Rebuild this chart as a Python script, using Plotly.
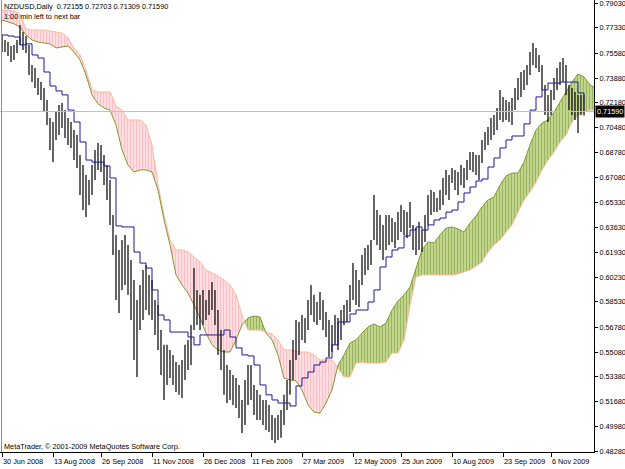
import plotly.graph_objects as go
import numpy as np

# ---------------- data ----------------
symbol_header = "NZDUSD,Daily  0.72155 0.72703 0.71309 0.71590"
timer_text = "1:00 min left to next bar"
copyright_text = "MetaTrader, \u00a9 2001-2009 MetaQuotes Software Corp."
last_close = 0.71590

# daily bars (sampled), high / low
highs = [.7684,.7650,.7636,.7609,.7616,.7650,.7753,.7704,.7677,.7616,
         .7478,.7457,.7389,.7361,.7320,.7238,.7115,.7087,.7155,.7204,
         .7217,.7169,.7115,.7087,.7032,.6998,.6861,.6792,.6724,.6689,
         .6792,.6895,.6943,.6930,.6861,.6792,.6689,.6449,.6312,.6209,
         .6278,.6312,.6244,.6140,.6003,.5866,.5969,.6072,.6106,.6038,
         .6003,.5866,.5832,.5660,.5558,.5558,.5523,.5489,.5440,.5420,
         .5454,.5558,.5592,.5695,.6086,.5935,.5901,.5935,.5866,.5935,
         .5989,.5935,.5797,.5660,.5523,.5420,.5386,.5352,.5331,.5283,
         .5180,.5317,.5420,.5420,.5283,.5249,.5215,.5180,.5180,.5146,
         .5077,.5057,.5077,.5111,.5215,.5317,.5454,.5592,.5729,.5715,
         .5763,.5742,.5866,.5969,.5901,.5852,.5921,.5866,.5783,.5729,
         .5695,.5763,.5742,.5797,.5832,.5866,.5969,.6119,.6072,.6003,
         .6175,.6223,.6244,.6278,.6587,.6483,.6449,.6381,.6449,.6449,
         .6428,.6401,.6469,.6518,.6483,.6469,.6538,.6381,.6360,.6401,
         .6346,.6449,.6587,.6621,.6607,.6566,.6621,.6703,.6758,.6724,
         .6772,.6758,.6744,.6792,.6772,.6826,.6881,.6881,.6861,.6861,
         .6964,.7018,.7053,.7115,.7135,.7183,.7307,.7259,.7238,.7224,
         .7252,.7320,.7389,.7430,.7444,.7478,.7567,.7629,.7595,.7547,
         .7478,.7341,.7273,.7307,.7389,.7457,.7498,.7526,.7478,.7341,
         .7320,.7293,.7273,.7273,.72703]
lows = [.7567,.7567,.7540,.7498,.7512,.7560,.7616,.7581,.7560,.7410,
        .7361,.7320,.7273,.7238,.7155,.7067,.6895,.6812,.6964,.6998,
        .7046,.6978,.6930,.6909,.6826,.6772,.6587,.6483,.6435,.6518,
        .6587,.6689,.6758,.6744,.6655,.6552,.6381,.6175,.5866,.5776,
        .5935,.5969,.5901,.5729,.5454,.5338,.5660,.5729,.5797,.5763,
        .5729,.5626,.5523,.5352,.5180,.5283,.5331,.5283,.5235,.5215,
        .5194,.5317,.5386,.5420,.5660,.5695,.5660,.5695,.5729,.5763,
        .5797,.5695,.5489,.5386,.5215,.5159,.5180,.5146,.5125,.5056,
        .4953,.5009,.5146,.5180,.5077,.5043,.5043,.5009,.4974,.4960,
        .4906,.4885,.4906,.4920,.5009,.5111,.5215,.5317,.5454,.5489,
        .5592,.5571,.5660,.5763,.5715,.5695,.5729,.5660,.5612,.5475,
        .5509,.5558,.5523,.5592,.5695,.5715,.5783,.5866,.5832,.5818,
        .5969,.6038,.6072,.6106,.6278,.6244,.6209,.6140,.6209,.6244,
        .6264,.6223,.6278,.6332,.6312,.6292,.6360,.6209,.6175,.6209,
        .6195,.6264,.6381,.6449,.6469,.6469,.6483,.6518,.6587,.6552,
        .6668,.6621,.6587,.6655,.6635,.6689,.6758,.6744,.6724,.6689,
        .6805,.6895,.6930,.6964,.6998,.7032,.7101,.7087,.7101,.7087,
        .7067,.7169,.7238,.7259,.7307,.7341,.7410,.7478,.7457,.7430,
        .7307,.7135,.7087,.7135,.7238,.7307,.7341,.7361,.7273,.7169,
        .7135,.7101,.7011,.7135,.71309]

# Ichimoku lines, sampled every 2 bars
kijun = [.7684,.7677,.7670,.7616,.7623,.7547,.7526,.7430,.7334,.7300,
         .7273,.7169,.7087,.6950,.6826,.6812,.6812,.6785,.6703,.6374,
         .6367,.6367,.6195,.6119,.6085,.5935,.5763,.5729,.5646,.5646,
         .5646,.5612,.5558,.5626,.5626,.5626,.5626,.5660,.5612,.5537,
         .5489,.5482,.5420,.5283,.5215,.5180,.5159,.5159,.5139,.5276,
         .5331,.5372,.5420,.5440,.5468,.5558,.5715,.5715,.5770,.5797,
         .5797,.5852,.5935,.6092,.6161,.6209,.6223,.6305,.6346,.6367,
         .6346,.6381,.6415,.6428,.6469,.6483,.6538,.6600,.6641,.6682,
         .6696,.6778,.6840,.6909,.6964,.6991,.6991,.7074,.7169,.7259,
         .7307,.7354,.7354,.7361,.7361,.7361,.7286,.7259]
span_a = [.7787,.7773,.7760,.7739,.7684,.7650,.7636,.7629,.7623,.7595,
          .7602,.7609,.7567,.7512,.7410,.7273,.7211,.7183,.7169,.7067,
          .6895,.6792,.6744,.6758,.6758,.6744,.6621,.6415,.6244,.6038,
          .5969,.5914,.5832,.5742,.5639,.5558,.5523,.5509,.5509,.5592,
          .5695,.5742,.5756,.5749,.5639,.5592,.5489,.5331,.5317,.5310,
          .5249,.5146,.5097,.5090,.5159,.5249,.5420,.5489,.5571,.5592,
          .5639,.5681,.5702,.5681,.5708,.5797,.5859,.5901,.5955,.6085,
          .6209,.6264,.6257,.6312,.6360,.6367,.6353,.6332,.6394,.6442,
          .6504,.6552,.6573,.6655,.6717,.6737,.6737,.6812,.6930,.7032,
          .7080,.7101,.7155,.7224,.7293,.7361,.7417,.7396,.7341,.7320]
span_b = [.7855,.7855,.7848,.7828,.7725,.7718,.7718,.7718,.7711,.7704,
          .7697,.7663,.7595,.7547,.7444,.7307,.7293,.7293,.7293,.7197,
          .7169,.7101,.7101,.7101,.7067,.6930,.6655,.6449,.6278,.6209,
          .6209,.6195,.6161,.6126,.6072,.6051,.6031,.6003,.5969,.5901,
          .5763,.5660,.5660,.5660,.5646,.5633,.5592,.5523,.5523,.5516,
          .5509,.5509,.5489,.5454,.5454,.5454,.5399,.5338,.5338,.5433,
          .5440,.5433,.5433,.5433,.5440,.5502,.5502,.5592,.5832,.6024,
          .6038,.6038,.6038,.6038,.6038,.6038,.6045,.6058,.6072,.6099,
          .6126,.6195,.6244,.6278,.6332,.6381,.6469,.6552,.6607,.6675,
          .6758,.6826,.6881,.6950,.6998,.7087,.7135,.7155,.7169,.7169]

price_ticks = [0.79030, 0.77330, 0.75580, 0.73880, 0.72180, 0.70480, 0.68780,
               0.67080, 0.65330, 0.63630, 0.61930, 0.60230, 0.58530, 0.56780,
               0.55080, 0.53380, 0.51680, 0.49980, 0.48280]
date_labels = ["30 Jun 2008", "13 Aug 2008", "26 Sep 2008", "11 Nov 2008",
               "26 Dec 2008", "11 Feb 2009", "27 Mar 2009", "12 May 2009",
               "25 Jun 2009", "10 Aug 2009", "23 Sep 2009", "6 Nov 2009"]
date_bar = [0, 17, 33, 50, 67, 83, 100, 117, 133, 150, 167, 183]

# ---------------- build figure ----------------
FONT = "Liberation Sans"
n = len(highs)
bar_x = np.arange(n)
ich_x = np.arange(len(span_a)) * 2
kij_x = np.arange(len(kijun)) * 2

fig = go.Figure()

# cloud split into bullish / bearish parts
def cloud_segments(xs, a, b):
    segs = []
    cx, ca, cb = [xs[0]], [a[0]], [b[0]]
    s_cur = a[0] >= b[0]
    for j in range(1, len(xs)):
        s = a[j] >= b[j]
        if s != s_cur:
            d0 = a[j-1] - b[j-1]
            d1 = a[j] - b[j]
            t = d0 / (d0 - d1)
            xc = xs[j-1] + t * (xs[j] - xs[j-1])
            yc = a[j-1] + t * (a[j] - a[j-1])
            cx.append(xc); ca.append(yc); cb.append(yc)
            segs.append((s_cur, cx, ca, cb))
            cx, ca, cb = [xc], [yc], [yc]
            s_cur = s
        cx.append(xs[j]); ca.append(a[j]); cb.append(b[j])
    segs.append((s_cur, cx, ca, cb))
    return segs

pink_pat = dict(shape="|", fgcolor="#FF8CA0", bgcolor="#FFEEEE", size=3, solidity=0.55)
green_pat = dict(shape="|", fgcolor="#5E861A", bgcolor="#D3E3A2", size=3, solidity=0.55)

for bull, sx, sa, sb in cloud_segments(list(ich_x), span_a, span_b):
    fig.add_trace(go.Scatter(
        x=list(sx) + list(sx)[::-1], y=list(sa) + list(sb)[::-1],
        mode="lines", line=dict(width=0), fill="toself",
        fillcolor="rgba(0,0,0,0)",
        fillpattern=green_pat if bull else pink_pat,
        hoverinfo="skip"))

fig.add_trace(go.Scatter(x=ich_x, y=span_b, mode="lines",
                         line=dict(color="#FFB89A", width=1), hoverinfo="skip"))
fig.add_trace(go.Scatter(x=ich_x, y=span_a, mode="lines",
                         line=dict(color="#7F9A30", width=1), hoverinfo="skip"))

# bars
bx, by = [], []
for i in range(n):
    bx += [bar_x[i], bar_x[i], None]
    by += [lows[i], highs[i], None]
fig.add_trace(go.Scatter(x=bx, y=by, mode="lines",
                         line=dict(color="#111111", width=1.3), hoverinfo="skip"))

# kijun-sen
fig.add_trace(go.Scatter(x=kij_x, y=kijun, mode="lines", line_shape="hv",
                         line=dict(color="#1A1A9A", width=1), hoverinfo="skip"))

# current price line
fig.add_shape(type="line", xref="paper", x0=0, x1=1, yref="y",
              y0=last_close, y1=last_close, line=dict(color="#C0C0C0", width=1))
# left frame line
fig.add_shape(type="line", xref="paper", x0=0.0025, x1=0.0025, yref="paper",
              y0=0, y1=1, line=dict(color="#909090", width=1))

annos = [
    dict(text=symbol_header, x=0, y=1, xref="paper", yref="paper",
         xanchor="left", yanchor="top", xshift=2, yshift=0, showarrow=False,
         font=dict(family=FONT, size=7.3, color="#000")),
    dict(text=timer_text, x=0, y=1, xref="paper", yref="paper",
         xanchor="left", yanchor="top", xshift=2, yshift=-10, showarrow=False,
         font=dict(family=FONT, size=7.3, color="#000")),
    dict(text=copyright_text, x=0, y=0, xref="paper", yref="paper",
         xanchor="left", yanchor="middle", xshift=2, yshift=6, showarrow=False,
         font=dict(family=FONT, size=7.3, color="#000")),
    dict(text=f"{last_close:.5f}", x=1, y=last_close, xref="paper", yref="y",
         xanchor="left", yanchor="middle", xshift=1, showarrow=False,
         bgcolor="#000000", borderpad=1,
         font=dict(family=FONT, size=7.3, color="#FFFFFF")),
]
for lab, b in zip(date_labels, date_bar):
    annos.append(dict(text=lab, x=b, y=0, xref="x", yref="paper",
                      xanchor="left", yanchor="top", xshift=-1, yshift=-3,
                      showarrow=False, font=dict(family=FONT, size=7.3, color="#000")))

fig.update_layout(
    width=625, height=469,
    margin=dict(l=0, r=31, t=0, b=17),
    paper_bgcolor="white", plot_bgcolor="white",
    showlegend=False,
    annotations=annos,
    xaxis=dict(range=[-2/3, 592/3], showgrid=False, zeroline=False,
               showline=True, linecolor="#000", linewidth=1,
               ticks="outside", ticklen=4, tickcolor="#000",
               tickvals=date_bar, showticklabels=False),
    yaxis=dict(range=[0.4823, 0.7924], side="right", showgrid=False,
               zeroline=False, showline=True, linecolor="#000", linewidth=1,
               ticks="outside", ticklen=3, tickcolor="#000",
               ticklabeloverflow="allow",
               tickvals=price_ticks, ticktext=[f"{v:.5f}" for v in price_ticks],
               tickfont=dict(family=FONT, size=7.3, color="#000")),
)

fig.write_html("out.html")
